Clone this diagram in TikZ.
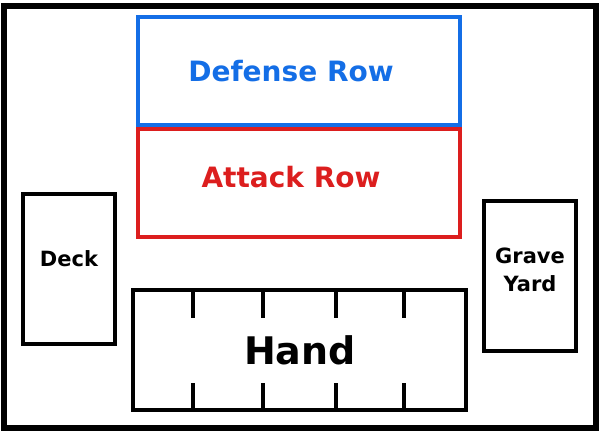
\documentclass[tikz,border=0pt]{standalone}
\usepackage{fontspec}
\setmainfont{DejaVu Sans}
\usetikzlibrary{positioning}
\definecolor{rowblue}{RGB}{20,110,230}
\definecolor{rowred}{RGB}{220,30,30}
\tikzset{
  zone/.style={draw, line width=1.6pt, inner sep=0pt},
  label/.style={font=\bfseries}
}
\begin{document}
\begin{tikzpicture}[x=0.5pt,y=-0.5pt]
    \useasboundingbox (0,0) rectangle (600,434);
    % board outline
    \draw[line width=3pt] (4,6) rectangle (596,428);
    % rows
    \draw[zone, rowblue] (138,17) rectangle (460,125);
    \node[label, rowblue, font=\bfseries\fontsize{14}{16}\selectfont] (defense) at (291,71) {Defense Row};
    \draw[zone, rowred] (138,129) rectangle (460,237);
    \node[label, rowred, font=\bfseries\fontsize{14}{16}\selectfont] (attack) at (291,177) {Attack Row};
    % piles
    \draw[zone] (23,194) rectangle (115,344);
    \node[label, font=\bfseries\fontsize{10.5}{12}\selectfont] (deck) at (69,259) {Deck};
    \draw[zone] (484,201) rectangle (576,351);
    \node[label, font=\bfseries\fontsize{10.5}{14}\selectfont, align=center] (grave) at (530,270) {Grave\\Yard};
    % hand with card slots
    \draw[zone] (133,290) rectangle (466,410);
    \node[label, font=\bfseries\fontsize{19}{21}\selectfont] (hand) at (300,350) {Hand};
    \foreach \x in {193,263,336,404} {
      \draw[line width=1.6pt] (\x,290) -- (\x,318);
      \draw[line width=1.6pt] (\x,383) -- (\x,410);
    };
\end{tikzpicture}
\end{document}
